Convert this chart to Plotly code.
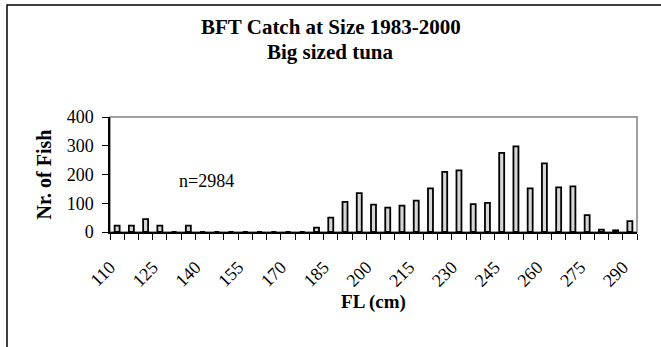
import plotly.graph_objects as go

# Data
fl_classes = [110, 115, 120, 125, 130, 135, 140, 145, 150, 155, 160, 165, 170, 175,
              180, 185, 190, 195, 200, 205, 210, 215, 220, 225, 230, 235, 240, 245,
              250, 255, 260, 265, 270, 275, 280, 285, 290]
n_fish = [22, 22, 45, 22, 0, 22, 0, 0, 0, 0, 0, 0, 0, 0,
          15, 50, 105, 135, 95, 85, 92, 109, 152, 209, 214, 97, 101, 275,
          298, 152, 239, 155, 159, 59, 8, 6, 38]
tick_labels = [110, 125, 140, 155, 170, 185, 200, 215, 230, 245, 260, 275, 290]
y_ticks = [0, 100, 200, 300, 400]

FONT = "Liberation Serif"
W, H = 661, 347
L, R, T, B = 110, 24, 117, 115
PW, PH = W - L - R, H - T - B

def px_to_paper_x(px):
    return (px - L) / PW

def px_to_paper_y(py):
    return (H - B - py) / PH

fig = go.Figure()
fig.add_trace(go.Bar(
    x=fl_classes, y=n_fish, width=1.75,
    marker=dict(color="#d6d6d6", line=dict(color="black", width=1.8)),
    showlegend=False,
))

fig.update_layout(
    width=W, height=H,
    margin=dict(l=L, r=R, t=T, b=B),
    paper_bgcolor="white", plot_bgcolor="white",
    font=dict(family=FONT, color="black"),
    xaxis=dict(
        range=[107.5, 292.5], tickmode="array", tickvals=tick_labels,
        ticktext=[str(v) for v in tick_labels], tickangle=-45,
        ticks="", showgrid=False, zeroline=False,
        showline=True, linecolor="black", linewidth=1.5,
        tickfont=dict(size=18, family=FONT),
        ticklabelstandoff=16, ticklabelshift=-7,
        minor=dict(tick0=107.5, dtick=5, ticks="outside", ticklen=6,
                   tickcolor="black", tickwidth=1, showgrid=False),
        title=dict(text="<b>FL (cm)</b>", font=dict(size=19, family=FONT), standoff=3),
    ),
    yaxis=dict(
        range=[0, 400], tickmode="array", tickvals=y_ticks,
        ticks="outside", ticklen=6, tickcolor="black", tickwidth=1,
        showgrid=False, zeroline=False,
        showline=True, linecolor="black", linewidth=1.5,
        tickfont=dict(size=18, family=FONT),
        ticklabelstandoff=5,
        title=dict(text="<b>Nr. of Fish</b>", font=dict(size=20, family=FONT), standoff=10),
    ),
)

# Plot area frame (grey) and outer chart frame (black)
fig.add_shape(type="rect", xref="paper", yref="paper", x0=0, x1=1, y0=0, y1=1,
              line=dict(color="#808080", width=1.5), layer="below")
fig.add_shape(type="rect", xref="paper", yref="paper",
              x0=px_to_paper_x(7), x1=px_to_paper_x(720),
              y0=px_to_paper_y(420), y1=px_to_paper_y(5),
              line=dict(color="black", width=1.5), layer="below")

# Titles
fig.add_annotation(text="<b>BFT Catch at Size 1983-2000</b>", xref="paper", yref="paper",
                   x=px_to_paper_x(330.5), y=px_to_paper_y(26.5), showarrow=False,
                   xanchor="center", yanchor="middle", font=dict(size=21, family=FONT))
fig.add_annotation(text="<b>Big sized tuna</b>", xref="paper", yref="paper",
                   x=px_to_paper_x(330.5), y=px_to_paper_y(51.5), showarrow=False,
                   xanchor="center", yanchor="middle", font=dict(size=21, family=FONT))
fig.add_annotation(text="n=2984", xref="paper", yref="paper",
                   x=px_to_paper_x(206), y=px_to_paper_y(181), showarrow=False,
                   xanchor="center", yanchor="middle", font=dict(size=18, family=FONT))

fig.write_html("out.html")
